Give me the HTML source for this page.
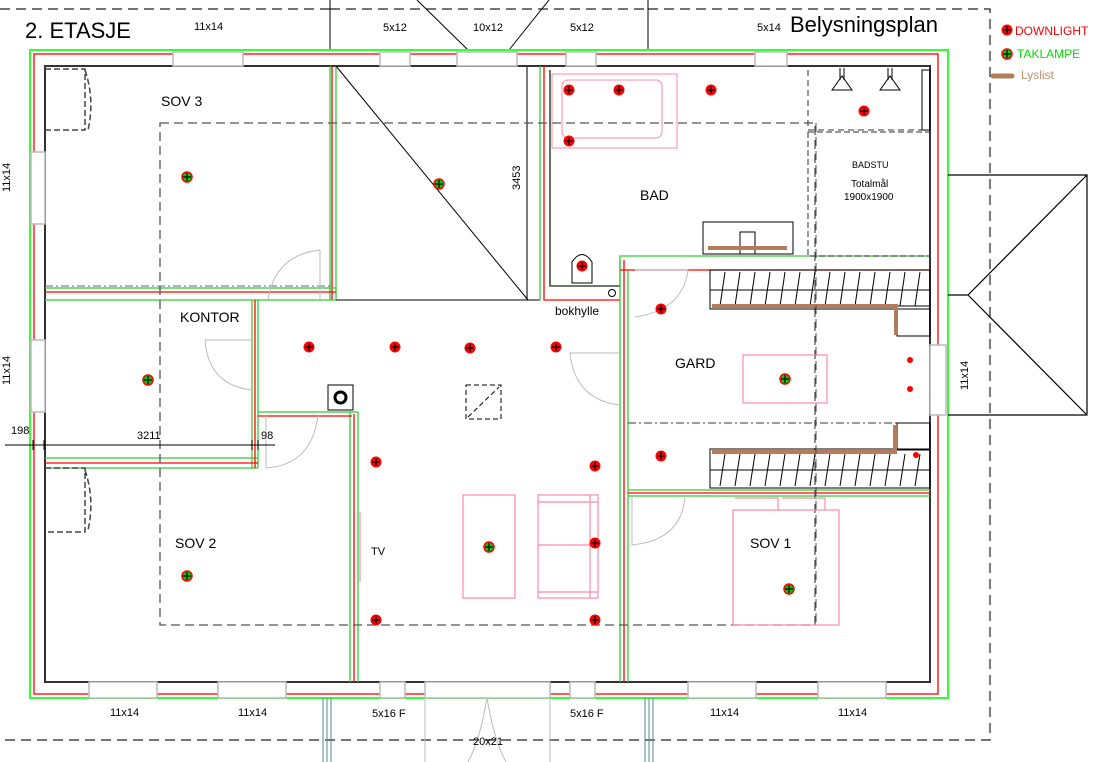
<!DOCTYPE html>
<html><head><meta charset="utf-8"><style>
html,body{margin:0;padding:0;background:#fff}
svg{display:block}
text{font-family:"Liberation Sans",sans-serif;fill:#000}
</style></head><body>
<svg width="1106" height="762" viewBox="0 0 1106 762" xmlns="http://www.w3.org/2000/svg">
<defs>
<g id="dl"><circle r="5.5" fill="#f00"/><path d="M-4 0H4M0-4V4" stroke="#000" stroke-width="1.2"/></g>
<g id="tl"><circle r="5" fill="#0c0" stroke="#f00" stroke-width="1.5"/><path d="M-4 0H4M0-4V4" stroke="#000" stroke-width="1.2"/></g>
</defs>
<!-- site dashed boundary -->
<g fill="none" stroke="#222" stroke-width="1.2" stroke-dasharray="10,6">
<path d="M0 9H330M330 9H648M648 9H990V740H0"/>
</g>
<path d="M330 0V50M648 0V50M417 0L468 50M549 0L509 50" stroke="#000" stroke-width="1" fill="none"/>
<!-- outer walls -->
<rect x="30" y="50" width="918" height="648" fill="none" stroke="#3f3" stroke-width="2"/>
<rect x="34" y="54" width="904" height="640" fill="none" stroke="#f00" stroke-width="1.3"/>
<rect x="45" y="66" width="885" height="616" fill="none" stroke="#333" stroke-width="2"/>
<!-- windows top -->
<g fill="#fff" stroke="#bbb" stroke-width="1.5">
<rect x="173" y="52" width="70" height="14"/><rect x="380" y="52" width="30" height="14"/><rect x="457" y="52" width="60" height="14"/>
<rect x="566" y="52" width="30" height="14"/><rect x="755" y="52" width="32" height="14"/>
<rect x="31" y="152" width="14" height="72"/><rect x="31" y="340" width="14" height="72"/>
<rect x="89" y="682" width="68" height="16"/><rect x="218" y="682" width="68" height="16"/>
<rect x="380" y="682" width="25" height="16"/><rect x="425" y="682" width="125" height="16"/><rect x="570" y="682" width="25" height="16"/>
<rect x="688" y="682" width="68" height="16"/><rect x="818" y="682" width="68" height="16"/>
<rect x="930" y="345" width="16" height="70"/>
</g>
<path d="M425 698V762M550 698V762M487 698Q480 740 468 762M487 698Q494 740 506 762" stroke="#bbb" fill="none"/>
<path d="M323 698V762M327 698V762M331 698V762M645 698V762M649 698V762M653 698V762" stroke="#588" stroke-width="1"/>
<!-- interior walls -->
<g fill="none" stroke-width="1.3">
<path d="M330 66V300M336 66V300" stroke="#3c3"/>
<path d="M332 66V300" stroke="#f00"/>
<path d="M45 288H336M45 300H336" stroke="#3c3"/>
<path d="M45 292H336" stroke="#f00"/>
<path d="M336 300H540M527 66V300" stroke="#333"/>
<path d="M336 66L528 300" stroke="#000" stroke-width="1"/>
<path d="M540 66V300M550 70V286H620V256H930" stroke="#3c3"/>
<path d="M544 66V300H620" stroke="#f00"/>
<path d="M550 70V286H620" stroke="#333"/>
<path d="M620 260V682M628 270V682" stroke="#3c3"/>
<path d="M624 260V682M620 270H930" stroke="#f00"/>
<path d="M628 490H930M628 496H930" stroke="#3c3"/>
<path d="M628 493H930" stroke="#f00"/>
<path d="M252 300V468M258 300V468M45 458H258M45 468H258" stroke="#3c3"/>
<path d="M255 300V468M45 463H258" stroke="#f00"/>
<path d="M258 412H358M350 412V682M358 412V682" stroke="#3c3"/>
<path d="M354 414V682M258 416H352" stroke="#f00"/>
</g>
<path d="M45 286H330" stroke="#477" stroke-dasharray="8,3,2,3" stroke-width="1"/>
<path d="M628 423H930" stroke="#244" stroke-dasharray="8,3,2,3" stroke-width="1"/>
<!-- dashed ceiling -->
<rect x="160" y="123" width="655" height="502" fill="none" stroke="#555" stroke-width="1.3" stroke-dasharray="9,5"/>
<path d="M808 70V130H930" stroke="#333" fill="none" stroke-dasharray="6,4"/>
<rect x="808" y="132" width="122" height="124" fill="none" stroke="#333" stroke-dasharray="6,3"/>
<path d="M45 69H85V130H45M85 70Q95 100 88 130M45 468H85V532H45M85 470Q95 500 88 530" stroke="#444" fill="none" stroke-dasharray="6,3" stroke-width="1.5"/>
<!-- doors -->
<g fill="none" stroke="#bbb" stroke-width="1">
<path d="M320 250V300M320 250Q275 255 268 300"/><path d="M252 340H205Q208 385 252 390"/>
<path d="M266 415V468Q312 465 318 415"/><path d="M635 270H688Q683 310 635 317"/>
<path d="M620 353H570Q575 400 620 405"/><path d="M632 496V545Q682 540 685 496"/>
</g>
<!-- bath fixtures -->
<rect x="552" y="74" width="125" height="74" fill="none" stroke="#f8a" stroke-width="1"/>
<rect x="562" y="80" width="100" height="58" rx="6" fill="none" stroke="#f8a" stroke-width="1"/>
<path d="M572 283V262Q582 247 592 262V283Z" fill="#fff" stroke="#000"/>
<rect x="703" y="222" width="90" height="32" fill="none" stroke="#000"/>
<path d="M740 254V232H755V254" fill="none" stroke="#000"/>
<path d="M708 248H787" stroke="#b47c5a" stroke-width="4"/>
<path d="M832 90L842 76L852 90ZM880 90L890 76L900 90ZM840 68V80M844 68V80M888 68V80M892 68V80" fill="none" stroke="#000"/>
<rect x="922" y="70" width="8" height="60" fill="none" stroke="#000"/>
<!-- wardrobes -->
<g stroke="#000" fill="none" stroke-width="1">
<rect x="710" y="270" width="220" height="39"/><path d="M710 290H930"/>
<rect x="710" y="449" width="220" height="39"/><path d="M710 470H930"/>
<rect x="897" y="306" width="33" height="30"/><rect x="897" y="423" width="33" height="27"/>
<path d="M720 306L725 272M735 306L740 272M750 306L755 272M765 306L770 272M780 306L785 272M795 306L800 272M810 306L815 272M825 306L830 272M840 306L845 272M855 306L860 272M870 306L875 272M885 306L890 272M900 306L905 272M915 306L920 272"/>
<path d="M720 486L725 454M735 486L740 454M750 486L755 454M765 486L770 454M780 486L785 454M795 486L800 454M810 486L815 454M825 486L830 454M840 486L845 454M855 486L860 454M870 486L875 454M885 486L890 454M900 486L905 454M915 486L920 454"/>
</g>
<path d="M712 306H896V335M712 452H895V425" stroke="#b47c5a" stroke-width="4" fill="none"/>
<path d="M816 123V625" stroke="#444" stroke-dasharray="9,5"/>
<!-- furniture -->
<g fill="none" stroke="#f8a" stroke-width="1.2">
<rect x="743" y="355" width="84" height="48"/>
<rect x="463" y="495" width="52" height="103"/>
<rect x="538" y="495" width="60" height="103"/><path d="M538 545H598M538 502H598M538 592H598M590 495V598"/>
<rect x="733" y="510" width="106" height="115"/><path d="M735 498H778V510M782 498H825V510"/>
<path d="M360 512V582"/>
</g>
<rect x="328" y="385" width="25" height="25" fill="#fff" stroke="#000"/>
<circle cx="340.5" cy="397.5" r="5.5" fill="none" stroke="#000" stroke-width="3"/>
<path d="M466 385H501V419H466Z" fill="none" stroke="#000" stroke-dasharray="5,3"/>
<path d="M468 417L499 387" stroke="#000" stroke-dasharray="5,3"/>
<circle cx="612" cy="293" r="3.5" fill="none" stroke="#000"/>
<!-- dimension line -->
<path d="M5 445H275M33 440V450M44 440V450M252 440V450M258 440V450" stroke="#000" stroke-width="1"/>
<!-- roof right -->
<path d="M948 175H1087V415H948M948 295H968L1087 175M968 295L1087 415" fill="none" stroke="#000" stroke-width="1.2"/>
<!-- lights -->
<g>
<use href="#dl" x="569" y="90"/><use href="#dl" x="619" y="90"/><use href="#dl" x="711" y="90"/><use href="#dl" x="569" y="141"/>
<use href="#dl" x="864" y="111"/><use href="#dl" x="582" y="266"/><use href="#dl" x="661" y="309"/>
<use href="#dl" x="309" y="347"/><use href="#dl" x="395" y="347"/><use href="#dl" x="470" y="348"/><use href="#dl" x="556" y="347"/>
<use href="#dl" x="376" y="462"/><use href="#dl" x="595" y="466"/><use href="#dl" x="661" y="456"/>
<use href="#dl" x="595" y="543"/><use href="#dl" x="376" y="620"/><use href="#dl" x="595" y="620"/>
<use href="#tl" x="187" y="177"/><use href="#tl" x="439" y="184"/><use href="#tl" x="148" y="380"/><use href="#tl" x="187" y="576"/>
<use href="#tl" x="489" y="547"/><use href="#tl" x="785" y="379"/><use href="#tl" x="789" y="589"/>
<circle cx="910" cy="360" r="3" fill="#f00"/><circle cx="910" cy="389" r="3" fill="#f00"/><circle cx="916" cy="455" r="3" fill="#f00"/>
</g>
<!-- legend -->
<use href="#dl" x="1007" y="30"/>
<text x="1015" y="35" font-size="12" style="fill:#f00">DOWNLIGHT</text>
<use href="#tl" x="1007" y="54"/>
<text x="1017" y="58" font-size="12" style="fill:#0d0">TAKLAMPE</text>
<path d="M993 76H1012" stroke="#b47c5a" stroke-width="5" stroke-linecap="round"/>
<text x="1021" y="79" font-size="12" style="fill:#c0906a">Lyslist</text>
<!-- titles/labels -->
<text x="25" y="38" font-size="22">2. ETASJE</text>
<text x="790" y="32" font-size="22">Belysningsplan</text>
<g font-size="11">
<text x="194" y="30">11x14</text><text x="383" y="31">5x12</text><text x="473" y="31">10x12</text><text x="570" y="31">5x12</text><text x="757" y="31">5x14</text>
<text x="110" y="716">11x14</text><text x="238" y="716">11x14</text><text x="372" y="717">5x16 F</text><text x="570" y="717">5x16 F</text>
<text x="710" y="716">11x14</text><text x="838" y="716">11x14</text><text x="473" y="745">20x21</text>
<text x="11" y="434">198</text><text x="137" y="439">3211</text><text x="261" y="439">98</text>
<text transform="translate(10,192) rotate(-90)">11x14</text>
<text transform="translate(10,385) rotate(-90)">11x14</text>
<text transform="translate(968,390) rotate(-90)">11x14</text>
<text transform="translate(520,190) rotate(-90)">3453</text>
<text x="852" y="168" font-size="9">BADSTU</text>
<text x="851" y="187" font-size="10">Totalmål</text><text x="844" y="200" font-size="10">1900x1900</text>
<text x="371" y="555">TV</text>
<text x="555" y="315" font-size="12">bokhylle</text>
</g>
<g font-size="14">
<text x="161" y="106">SOV 3</text><text x="180" y="322">KONTOR</text><text x="175" y="548">SOV 2</text>
<text x="640" y="200">BAD</text><text x="675" y="368">GARD</text><text x="750" y="548">SOV 1</text>
</g>
</svg>
</body></html>
